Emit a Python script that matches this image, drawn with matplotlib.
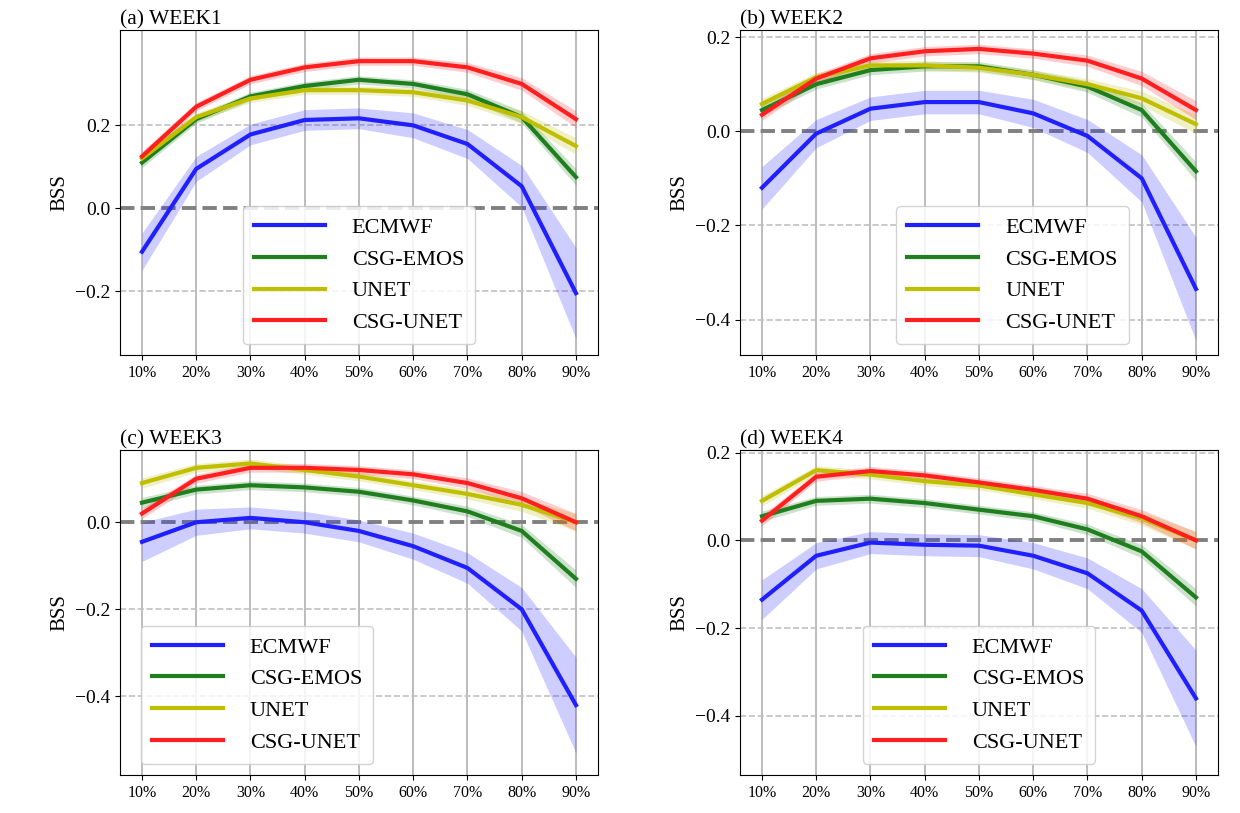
import matplotlib
matplotlib.use("Agg")
import matplotlib.pyplot as plt
import numpy as np

plt.rcParams['font.family'] = ['Liberation Serif', 'DejaVu Serif']
plt.rcParams['mathtext.fontset'] = 'stix'

xlabels = ['10%', '20%', '30%', '40%', '50%', '60%', '70%', '80%', '90%']
titles = ['(a) WEEK1', '(b) WEEK2', '(c) WEEK3', '(d) WEEK4']
series = ['ECMWF', 'CSG-EMOS', 'UNET', 'CSG-UNET']
colors = ['#1f1fff', '#1f7f1f', '#bfbf00', '#ff1f1f']

w1 = [[-0.105, 0.095, 0.178, 0.213, 0.217, 0.2, 0.155, 0.053, -0.205],
      [0.11, 0.215, 0.27, 0.295, 0.31, 0.3, 0.275, 0.22, 0.075],
      [0.12, 0.22, 0.265, 0.285, 0.285, 0.28, 0.26, 0.22, 0.15],
      [0.125, 0.245, 0.31, 0.34, 0.355, 0.355, 0.34, 0.3, 0.215]]
w2 = [[-0.12, -0.005, 0.048, 0.062, 0.062, 0.038, -0.01, -0.1, -0.335],
      [0.045, 0.1, 0.13, 0.138, 0.138, 0.12, 0.095, 0.045, -0.085],
      [0.058, 0.115, 0.14, 0.14, 0.135, 0.12, 0.1, 0.07, 0.015],
      [0.035, 0.112, 0.155, 0.17, 0.175, 0.165, 0.15, 0.112, 0.045]]
w3 = [[-0.045, 0.0, 0.01, 0.0, -0.02, -0.055, -0.105, -0.2, -0.42],
      [0.045, 0.075, 0.085, 0.08, 0.07, 0.05, 0.025, -0.02, -0.13],
      [0.09, 0.125, 0.135, 0.12, 0.105, 0.085, 0.065, 0.04, 0.0],
      [0.02, 0.1, 0.125, 0.125, 0.12, 0.11, 0.09, 0.055, 0.0]]
w4 = [[-0.135, -0.035, -0.005, -0.01, -0.012, -0.035, -0.075, -0.16, -0.36],
      [0.055, 0.09, 0.095, 0.085, 0.07, 0.055, 0.025, -0.025, -0.13],
      [0.09, 0.16, 0.15, 0.135, 0.125, 0.105, 0.085, 0.05, 0.0],
      [0.045, 0.145, 0.158, 0.148, 0.132, 0.115, 0.095, 0.055, 0.0]]
weeks = [w1, w2, w3, w4]

ecmwf_spread = [0.045, 0.03, 0.025, 0.025, 0.025, 0.03, 0.035, 0.05, 0.11]
other_spread = [0.012, 0.01, 0.01, 0.01, 0.01, 0.01, 0.012, 0.015, 0.02]

ylims = [(-0.355, 0.43), (-0.476, 0.215), (-0.58, 0.165), (-0.534, 0.205)]
yticks = [[-0.2, 0.0, 0.2], [-0.4, -0.2, 0.0, 0.2], [-0.4, -0.2, 0.0], [-0.4, -0.2, 0.0, 0.2]]
legend_locs = [dict(loc='lower center', bbox_to_anchor=(0.5, 0.0)),
               dict(loc='lower center', bbox_to_anchor=(0.57, 0.0)),
               dict(loc='lower left', bbox_to_anchor=(0.02, 0.0)),
               dict(loc='lower center', bbox_to_anchor=(0.5, 0.0))]
positions = [[0.097, 0.563, 0.385, 0.4], [0.597, 0.563, 0.385, 0.4],
             [0.097, 0.047, 0.385, 0.399], [0.597, 0.047, 0.385, 0.399]]

fig = plt.figure(figsize=(12.4, 8.13), dpi=100)
x = np.arange(len(xlabels))
for k in range(4):
    ax = fig.add_axes(positions[k])
    for gx in x:
        ax.axvline(gx, color='#b0b0b0', lw=1.2, zorder=0)
    for t in yticks[k]:
        if t != 0:
            ax.axhline(t, color='#c0c0c0', lw=1.2, ls='--', zorder=0)
    ax.axhline(0, color='#808080', lw=2.8, ls='--', zorder=1)
    for i, name in enumerate(series):
        y = np.array(weeks[k][i])
        s = np.array(ecmwf_spread if i == 0 else other_spread)
        ax.fill_between(x, y - s, y + s, color=colors[i], alpha=0.22, lw=0, zorder=2)
        ax.plot(x, y, color=colors[i], lw=3, label=name, zorder=3)
    ax.set_xlim(-0.4, 8.4)
    ax.set_ylim(*ylims[k])
    ax.set_xticks(x)
    ax.set_xticklabels(xlabels, fontsize=11.5)
    ax.set_yticks(yticks[k])
    ax.set_yticklabels([f'{t:.1f}'.replace('-', '\u2212') for t in yticks[k]], fontsize=14)
    ax.set_ylabel('BSS', fontsize=15)
    ax.set_title(titles[k], loc='left', fontsize=15.5, pad=4)
    ax.legend(fontsize=16, handlelength=3.2, labelspacing=0.5, borderpad=0.5,
              handletextpad=1.2, framealpha=0.85, **legend_locs[k])
fig.savefig('out.png', dpi=100)
